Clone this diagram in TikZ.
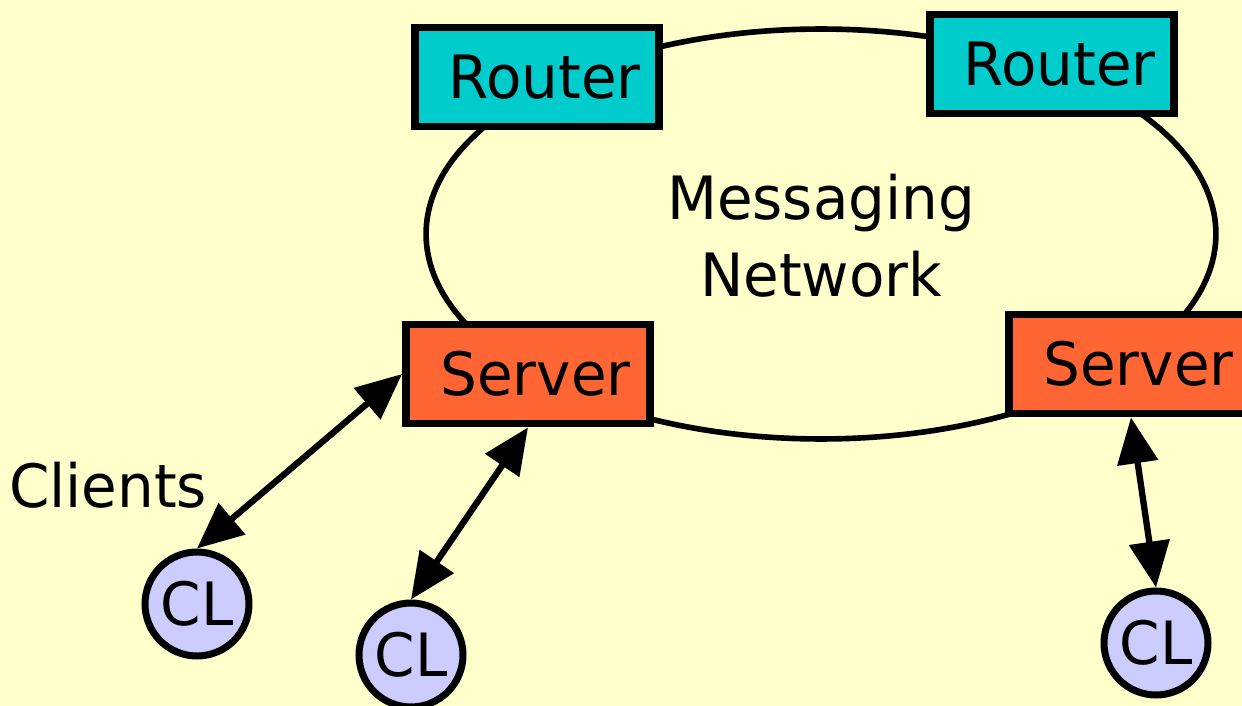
\documentclass[tikz,border=0pt]{standalone}
\usepackage{fontspec}
\setmainfont{DejaVu Sans}[FakeStretch=0.97]
\usetikzlibrary{arrows.meta}
\definecolor{bgyellow}{HTML}{FFFFCC}
\definecolor{routercyan}{HTML}{00CCCC}
\definecolor{serverorange}{HTML}{FF6633}
\definecolor{clientlilac}{HTML}{CCCCFF}
\tikzset{
  label text/.style={font=\fontsize{34}{44}\selectfont},
  netbox/.style={draw=black, line width=4.5pt, inner sep=0pt,
    minimum width=4.88cm, minimum height=1.98cm, label text},
  routerbox/.style={netbox, fill=routercyan},
  serverbox/.style={netbox, fill=serverorange},
  client/.style={circle, draw=black, line width=4pt, fill=clientlilac,
    inner sep=0pt, minimum size=2.08cm, label text},
  tip/.style={Triangle[length=0.92cm,width=0.8cm]},
  link/.style={line width=3.6pt, {Triangle[length=0.92cm,width=0.8cm]}-{Triangle[length=0.92cm,width=0.8cm]}},
}
\newcommand{\boxtext}[1]{\hspace*{0.3cm}#1}
\begin{document}
\begin{tikzpicture}[x=0.02cm, y=-0.02cm]
  \useasboundingbox[fill=bgyellow] (0,0) rectangle (1242,706);

  % messaging network ring
  \draw[line width=3.2pt] (821,234) ellipse [x radius=7.9cm, y radius=4.1cm];
  \node[label text, align=center] (net) at (821,236) {Messaging\\Network};

  % routers and servers on the ring
  \node[routerbox] (r1) at (537,77) {\boxtext{Router}};
  \node[routerbox] (r2) at (1052,64) {\boxtext{Router}};
  \node[serverbox] (s1) at (528,374) {\boxtext{Server}};
  \node[serverbox] (s2) at (1131,364) {\boxtext{Server}};

  % clients
  \node[label text] (clients) at (108,485) {Clients};
  \node[client] (c1) at (197,604) {CL};
  \node[client] (c2) at (411,655) {CL};
  \node[client] (c3) at (1156,643) {CL};

  % client connections
  \draw[link] (c1.north) -- (s1.west);
  \draw[link] (c2.north) -- (s1.south);
  \draw[link] (c3.north) -- (s2.south);
\end{tikzpicture}
\end{document}
